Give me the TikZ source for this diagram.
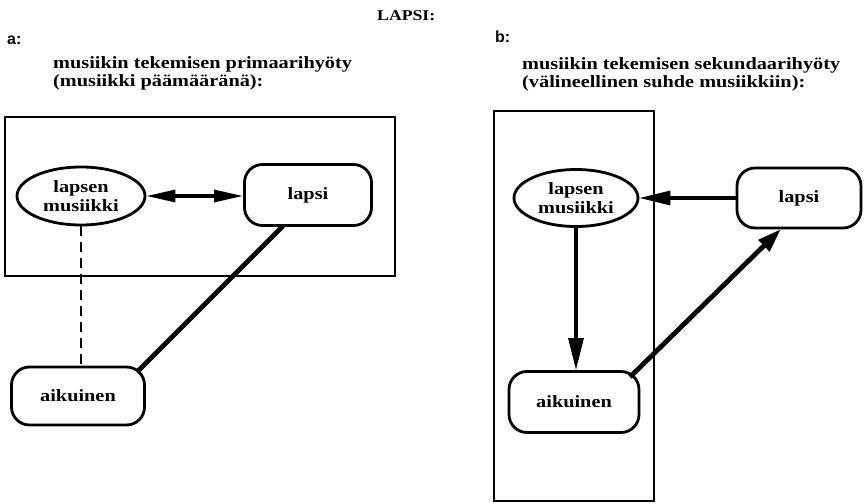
\documentclass[tikz,border=0pt]{standalone}
\usepackage{fontspec}
\newfontfamily\labfont{Liberation Sans}
\newfontfamily\serifbold[FakeStretch=1.18]{Liberation Serif}
\usetikzlibrary{arrows.meta,shapes.geometric}
\begin{document}
\begin{tikzpicture}[x=1pt,y=-1pt,
  txt/.style={font=\serifbold\fontsize{17.2}{18}\selectfont\bfseries, align=left, inner sep=0pt, anchor=base west},
  nodetxt/.style={font=\serifbold\fontsize{17.2}{20}\selectfont\bfseries},
  rbox/.style={draw, line width=2.8pt, rounded corners=18pt, inner sep=0pt, nodetxt},
  ell/.style={draw, ellipse, line width=2.8pt, inner sep=0pt, align=center, nodetxt},
  frame/.style={draw, line width=1.3pt},
  conn/.style={line width=3.1pt},
  heavy/.style={line width=4.8pt},
  sublab/.style={font=\labfont\fontsize{16}{18}\selectfont\bfseries, anchor=base west, inner sep=0pt}
]
\useasboundingbox (0,0) rectangle (864,503);
% titles
\node[font=\serifbold\fontsize{15}{17}\selectfont\bfseries, anchor=base west, inner sep=0pt] (title) at (377,21) {LAPSI:};
\node[sublab] (la) at (7,45) {a:};
\node[sublab] (lb) at (495,43) {b:};
\node[txt] (ha1) at (53,68) {musiikin tekemisen primaarihyöty};
\node[txt] (ha2) at (53,86) {(musiikki päämääränä):};
\node[txt] (hb1) at (522,70) {musiikin tekemisen sekundaarihyöty};
\node[txt] (hb2) at (522,88) {(välineellinen suhde musiikkiin):};
% left panel
\draw[frame] (5,117) rectangle (395,276);
\node[ell, minimum width=128pt, minimum height=58pt] (em) at (81,196) {lapsen\\[-1pt]musiikki};
\node[rbox, minimum width=127pt, minimum height=61pt] (lp) at (308,195) {lapsi};
\node[rbox, minimum width=133pt, minimum height=58pt] (ak) at (78,396) {aikuinen};
\draw[conn, {Triangle[length=29pt,width=12pt]}-{Triangle[length=29pt,width=12pt]}] (em.east) -- (lp.west |- em.east);
\draw[line width=2pt, dash pattern=on 10pt off 6pt] (em.south) -- (em.south |- ak.north);
\coordinate (lpb) at (283,226);
\coordinate (akt) at (137,372);
\draw[heavy] (lpb) -- (akt);
% right panel
\draw[frame] (494,111) rectangle (654,501);
\node[ell, minimum width=124pt, minimum height=57pt] (em2) at (576,198) {lapsen\\[-1pt]musiikki};
\node[rbox, minimum width=124pt, minimum height=60pt] (lp2) at (799,198) {lapsi};
\node[rbox, minimum width=130pt, minimum height=61pt] (ak2) at (574,402) {aikuinen};
\draw[conn, -{Triangle[length=31pt,width=14pt]}] (lp2.west) -- (em2.east);
\draw[conn, -{Triangle[length=32pt,width=15pt]}] (em2.south) -- (em2.south |- ak2.north);
\coordinate (ak2s) at (630,377);
\coordinate (lp2e) at (781,229);
\draw[heavy, -{Triangle[length=24pt,width=15pt]}] (ak2s) -- (lp2e);
\end{tikzpicture}
\end{document}
